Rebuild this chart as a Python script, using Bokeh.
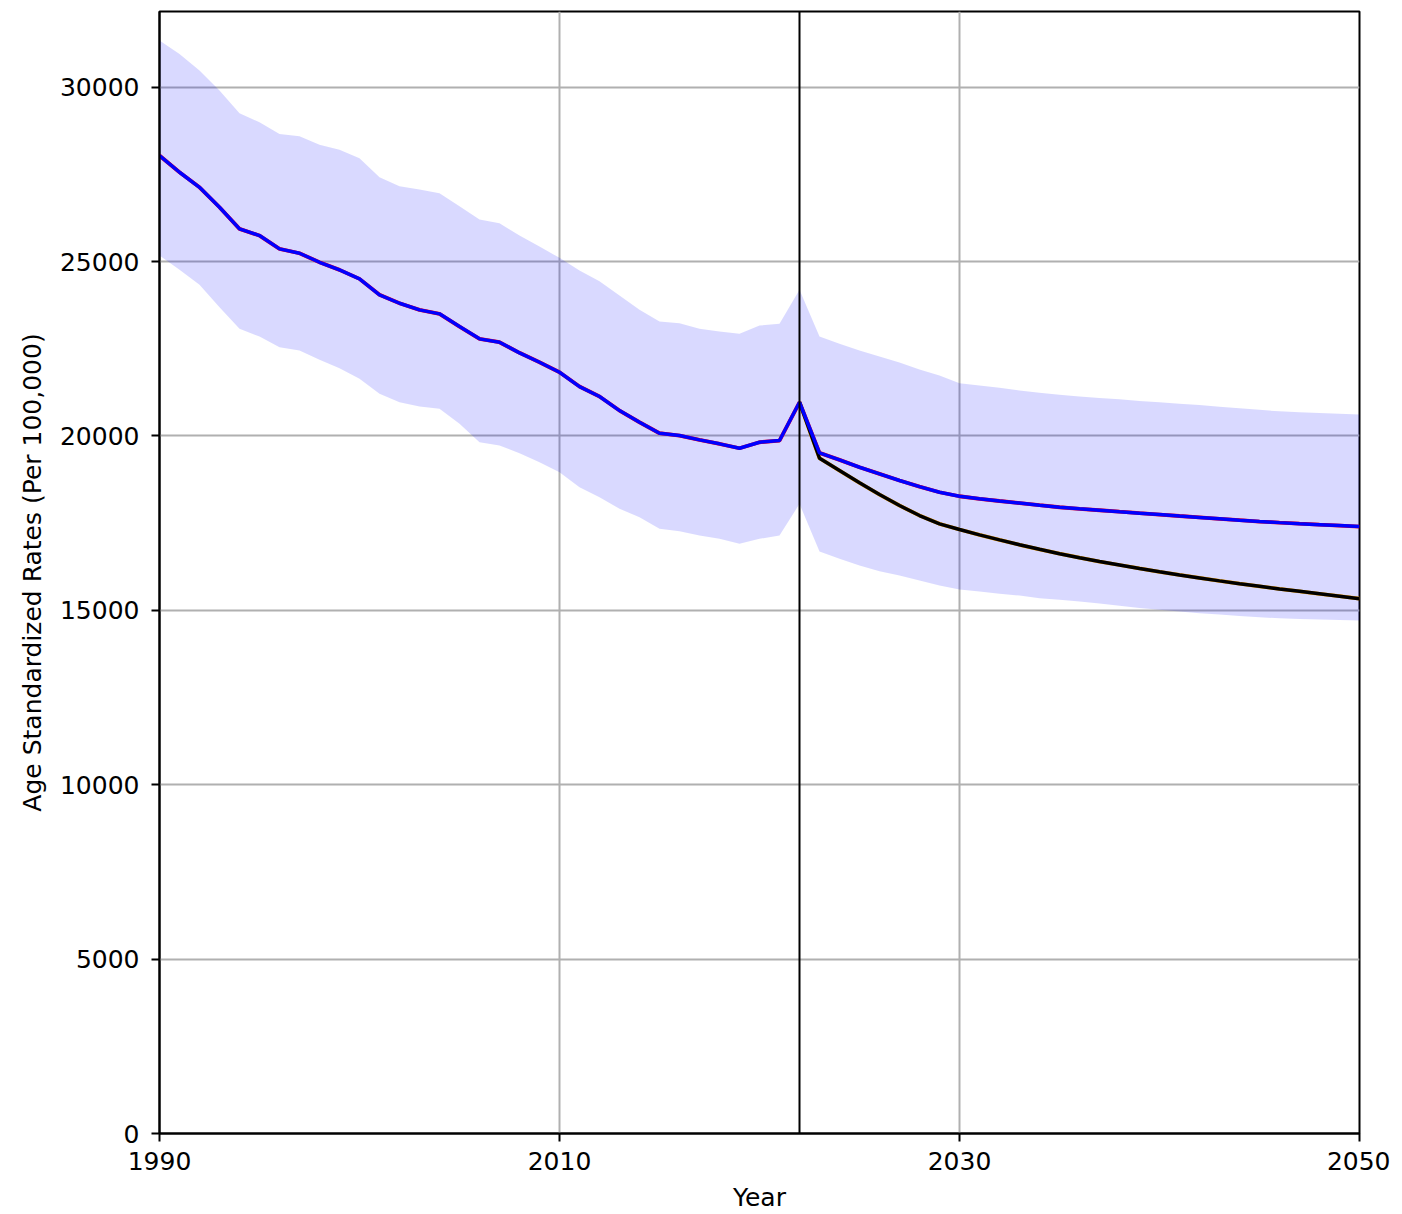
from bokeh.plotting import figure
from bokeh.models import Range1d, FixedTicker, Span
from bokeh.embed import file_html
from bokeh.resources import INLINE

# ---- data ----
years_hist = list(range(1990, 2023))
mean_hist = [28039, 27561, 27130, 26557, 25938, 25746, 25364, 25238, 24980, 24762,
             24504, 24046, 23805, 23615, 23501, 23137, 22784, 22687, 22383, 22113,
             21827, 21416, 21130, 20728, 20393, 20078, 20012, 19888, 19774, 19648,
             19820, 19868, 20966]

years_fc = list(range(2022, 2051))
ref_fc = [20966, 19516, 19315, 19103, 18914, 18722, 18549, 18386, 18271, 18197,
          18135, 18075, 18015, 17956, 17912, 17870, 17828, 17787, 17747, 17705,
          17665, 17625, 17585, 17546, 17515, 17485, 17457, 17430, 17403]
alt_fc = [20966, 19361, 19008, 18656, 18320, 18005, 17718, 17480, 17317, 17165,
          17020, 16880, 16750, 16625, 16510, 16400, 16300, 16200, 16105, 16015,
          15930, 15845, 15765, 15690, 15615, 15545, 15475, 15405, 15335]

years_all = list(range(1990, 2051))
upper = [31336, 30955, 30476, 29903, 29252, 28994, 28661, 28593, 28346, 28203,
         27962, 27417, 27159, 27064, 26958, 26586, 26204, 26098, 25746, 25430,
         25106, 24742, 24435, 24025, 23615, 23280, 23231, 23071, 22993, 22927,
         23165, 23214, 24189, 22850, 22641, 22449, 22277, 22105, 21904, 21732,
         21511, 21445, 21379, 21302, 21236, 21178, 21130, 21090, 21050, 21005,
         20966, 20925, 20885, 20840, 20795, 20748, 20705, 20680, 20655, 20635,
         20614]
lower = [25172, 24762, 24332, 23690, 23071, 22850, 22543, 22449, 22182, 21941,
         21637, 21207, 20966, 20843, 20777, 20347, 19820, 19725, 19504, 19246,
         18960, 18529, 18243, 17910, 17669, 17337, 17268, 17145, 17050, 16907,
         17050, 17145, 18053, 16686, 16477, 16285, 16121, 15998, 15855, 15711,
         15596, 15539, 15473, 15424, 15347, 15301, 15252, 15195, 15130, 15070,
         15014, 14970, 14920, 14880, 14840, 14802, 14770, 14750, 14735, 14720,
         14708]

x_ticks = [1990, 2010, 2030, 2050]
y_ticks = [0, 5000, 10000, 15000, 20000, 25000, 30000]
split_year = 2022

FONT = "DejaVu Sans"

p = figure(width=1390, height=1214, output_backend="svg", toolbar_location=None,
           x_range=Range1d(1990, 2050), y_range=Range1d(0, 32170),
           min_border_left=159, min_border_right=31, min_border_top=11, min_border_bottom=81)

p.background_fill_color = "white"
p.border_fill_color = "white"
p.outline_line_color = "black"
p.outline_line_width = 2

# band
p.varea(x=years_all, y1=lower, y2=upper, fill_color="blue", fill_alpha=0.15)

# lines
p.line(years_hist + years_fc[1:], mean_hist + ref_fc[1:], line_color="red", line_width=3.8)
p.line(years_fc, alt_fc, line_color="orange", line_width=3.8)
p.line(years_fc, alt_fc, line_color="black", line_width=3.5)
p.line(years_hist + years_fc[1:], mean_hist + ref_fc[1:], line_color="blue", line_width=3.5)

p.add_layout(Span(location=split_year, dimension="height", line_color="black", line_width=2))

# grid
p.xgrid.ticker = FixedTicker(ticks=x_ticks)
p.ygrid.ticker = FixedTicker(ticks=y_ticks)
for g in (p.xgrid, p.ygrid):
    g.grid_line_color = "#b0b0b0"
    g.grid_line_width = 2

# axes
p.xaxis.ticker = FixedTicker(ticks=x_ticks)
p.yaxis.ticker = FixedTicker(ticks=y_ticks)
p.xaxis.axis_label = "Year"
p.yaxis.axis_label = "Age Standardized Rates (Per 100,000)"
for ax in (p.xaxis, p.yaxis):
    ax.axis_line_color = "black"
    ax.axis_line_width = 2
    ax.major_tick_line_color = "black"
    ax.major_tick_line_width = 2
    ax.major_tick_out = 8
    ax.major_tick_in = 0
    ax.minor_tick_line_color = None
    ax.major_label_text_font = FONT
    ax.major_label_text_font_size = "25px"
    ax.major_label_text_color = "black"
    ax.axis_label_text_font = FONT
    ax.axis_label_text_font_size = "25px"
    ax.axis_label_text_font_style = "normal"
    ax.axis_label_text_color = "black"
p.xaxis.major_label_standoff = 10
p.yaxis.major_label_standoff = 12
p.xaxis.axis_label_standoff = 10
p.yaxis.axis_label_standoff = 10

open("out.html", "w").write(file_html(p, INLINE))
